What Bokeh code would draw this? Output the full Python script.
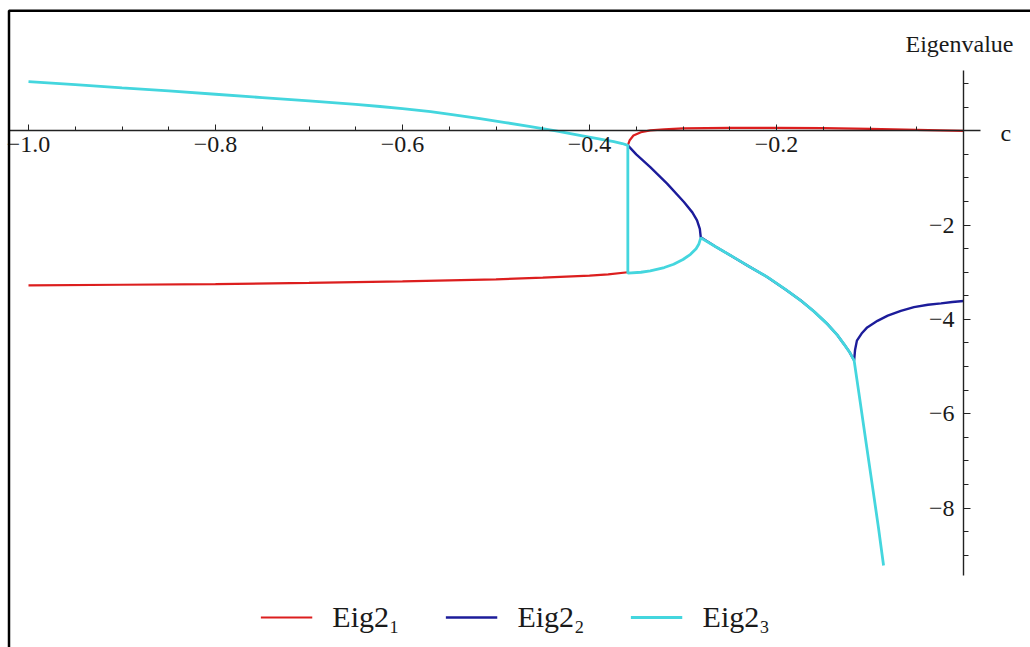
from bokeh.plotting import figure
from bokeh.models import (LinearAxis, FixedTicker, Legend, LegendItem, Label,
                          BoxAnnotation)
from bokeh.embed import file_html
from bokeh.resources import INLINE

# ---------------- data ----------------
# Eig2_1 (red): lower branch and upper branch
c_red_lower = [-1.0, -0.9, -0.8, -0.7, -0.6, -0.5, -0.45, -0.4, -0.38, -0.359]
eig1_lower = [-3.28, -3.265, -3.25, -3.225, -3.195, -3.15, -3.115, -3.07, -3.045, -3.0]
c_red_upper = [-0.359, -0.357, -0.353, -0.345, -0.335, -0.32, -0.3, -0.25, -0.2,
               -0.15, -0.1, -0.05, 0.0]
eig1_upper = [-0.31, -0.2, -0.1, -0.03, 0.01, 0.03, 0.05, 0.06, 0.06,
              0.055, 0.04, 0.02, 0.0]

# Eig2_2 (blue)
c_blue = [-0.359, -0.35, -0.335, -0.317, -0.299, -0.29, -0.285, -0.282, -0.281,
          -0.265, -0.246, -0.23, -0.21, -0.19, -0.174, -0.16, -0.146, -0.135,
          -0.128, -0.122, -0.117, -0.116, -0.114, -0.109, -0.103, -0.092,
          -0.081, -0.067, -0.053, -0.038, -0.024, -0.012, 0.0]
eig2 = [-0.31, -0.5, -0.77, -1.12, -1.51, -1.73, -1.9, -2.08, -2.26,
        -2.46, -2.68, -2.87, -3.1, -3.37, -3.6, -3.83, -4.09, -4.33,
        -4.52, -4.69, -4.87, -4.65, -4.45, -4.3, -4.17, -4.03,
        -3.92, -3.82, -3.74, -3.69, -3.66, -3.63, -3.61]

# Eig2_3 (cyan)
c_cyan = [-1.0, -0.95, -0.9, -0.85, -0.8, -0.75, -0.7, -0.65, -0.624, -0.6,
          -0.57, -0.545, -0.517, -0.49, -0.463, -0.436, -0.409, -0.39, -0.374,
          -0.365, -0.359,
          -0.359, -0.345, -0.335, -0.32, -0.31, -0.3, -0.292, -0.286, -0.283,
          -0.281, -0.265, -0.246, -0.23, -0.21, -0.19, -0.174, -0.16, -0.146,
          -0.135, -0.128, -0.122, -0.117, -0.1105, -0.104, -0.097, -0.091,
          -0.0855]
eig3 = [1.045, 0.98, 0.91, 0.845, 0.775, 0.705, 0.635, 0.56, 0.515, 0.47,
        0.405, 0.34, 0.26, 0.175, 0.09, 0.0, -0.10, -0.17, -0.23,
        -0.27, -0.31,
        -3.02, -3.0, -2.97, -2.9, -2.83, -2.73, -2.62, -2.5, -2.4,
        -2.27, -2.46, -2.68, -2.87, -3.1, -3.37, -3.6, -3.83, -4.09,
        -4.33, -4.52, -4.69, -4.87, -5.75, -6.64, -7.59, -8.41,
        -9.22]

labels = ["Eig2\u2081", "Eig2\u2082", "Eig2\u2083"]
colors = ["#dc1e1e", "#1c1c9a", "#44d6de"]

x_major = [-1.0, -0.8, -0.6, -0.4, -0.2]
x_minor = [-0.95, -0.9, -0.85, -0.75, -0.7, -0.65, -0.55, -0.5, -0.45,
           -0.35, -0.3, -0.25, -0.15, -0.1, -0.05]
y_major = [-8, -6, -4, -2]
y_minor = [-9.0, -8.5, -7.5, -7.0, -6.5, -5.5, -5.0, -4.5, -3.5, -3.0,
           -2.5, -1.5, -1.0, -0.5, 0.5, 1.0]

# ---------------- layout geometry ----------------
W, H = 1030, 647
PX_X = 935.0      # pixels per unit of c
X0_PX = 963.0     # pixel column of c = 0
PX_Y = 47.15      # pixels per unit of eigenvalue
Y0_PX = 130.3     # pixel row of eigenvalue = 0

x_start = -X0_PX / PX_X
x_end = (W - X0_PX) / PX_X
y_end = Y0_PX / PX_Y
y_start = -(H - Y0_PX) / PX_Y

p = figure(width=W, height=H, x_range=(x_start, x_end), y_range=(y_start, y_end),
           output_backend="svg", toolbar_location=None,
           x_axis_location=None, y_axis_location=None,
           min_border=0, min_border_left=0, min_border_right=0,
           min_border_top=0, min_border_bottom=0)
p.grid.visible = False
p.outline_line_color = None
p.background_fill_color = "white"
p.border_fill_color = "white"

# frame border of the original picture (top and left visible)
p.add_layout(BoxAnnotation(left=x_start + 8.5 / PX_X, top=y_end - 10.3 / PX_Y,
                           right=x_end + 1, bottom=y_start - 5,
                           fill_alpha=0, line_color="black", line_alpha=1.0,
                           line_width=2.5))

r_red1 = p.line(c_red_lower, eig1_lower, line_color=colors[0], line_width=2.2)
r_red2 = p.line(c_red_upper, eig1_upper, line_color=colors[0], line_width=2.2)
r_blue = p.line(c_blue, eig2, line_color=colors[1], line_width=2.4)
r_cyan = p.line(c_cyan, eig3, line_color=colors[2], line_width=2.8)

SERIF = "Liberation Serif"

def minus(v, fmt):
    s = fmt % abs(v)
    return ("\u2212" + s) if v < 0 else s

xax = LinearAxis(fixed_location=0, bounds=(x_start + 9 / PX_X, 17 / PX_X),
                 ticker=FixedTicker(ticks=x_major, minor_ticks=x_minor))
xax.major_label_overrides = {v: minus(v, "%.1f") for v in x_major}
xax.major_tick_in = 6
xax.major_tick_out = 0
xax.minor_tick_in = 4
xax.minor_tick_out = 0
xax.axis_line_color = "#222222"
xax.axis_line_width = 1.4
xax.major_tick_line_color = "#222222"
xax.minor_tick_line_color = "#222222"
xax.major_label_standoff = 6
xax.major_label_text_font = SERIF
xax.major_label_text_font_size = "24px"
xax.major_label_text_color = "#1a1a1a"
p.add_layout(xax, "below")

yax = LinearAxis(fixed_location=0, bounds=(-9.43, 1.27),
                 ticker=FixedTicker(ticks=y_major, minor_ticks=y_minor))
yax.major_label_overrides = {v: minus(v, "%d") for v in y_major}
yax.major_tick_in = 7
yax.major_tick_out = 0
yax.minor_tick_in = 5
yax.minor_tick_out = 0
yax.axis_line_color = "#222222"
yax.axis_line_width = 1.4
yax.major_tick_line_color = "#222222"
yax.minor_tick_line_color = "#222222"
yax.major_label_standoff = 9
yax.major_label_text_font = SERIF
yax.major_label_text_font_size = "24px"
yax.major_label_text_color = "#1a1a1a"
p.add_layout(yax, "left")

p.add_layout(Label(x=-4 / PX_X, y=(Y0_PX - 43) / PX_Y, text="Eigenvalue",
                   text_align="center", text_baseline="middle",
                   text_font=SERIF, text_font_size="24px", text_color="#1a1a1a"))
p.add_layout(Label(x=37 / PX_X, y=-2 / PX_Y, text="c",
                   text_align="left", text_baseline="middle",
                   text_font=SERIF, text_font_size="24px", text_color="#1a1a1a"))

legend = Legend(items=[LegendItem(label=labels[0], renderers=[r_red1]),
                       LegendItem(label=labels[1], renderers=[r_blue]),
                       LegendItem(label=labels[2], renderers=[r_cyan])],
                orientation="horizontal", location="bottom_center",
                glyph_width=52, glyph_height=20, label_standoff=20, spacing=46,
                padding=6, margin=13, border_line_color=None,
                background_fill_alpha=0,
                label_text_font=SERIF, label_text_font_size="30px",
                label_text_color="#1a1a1a")
p.add_layout(legend)

with open("out.html", "w") as f:
    f.write(file_html(p, INLINE))
